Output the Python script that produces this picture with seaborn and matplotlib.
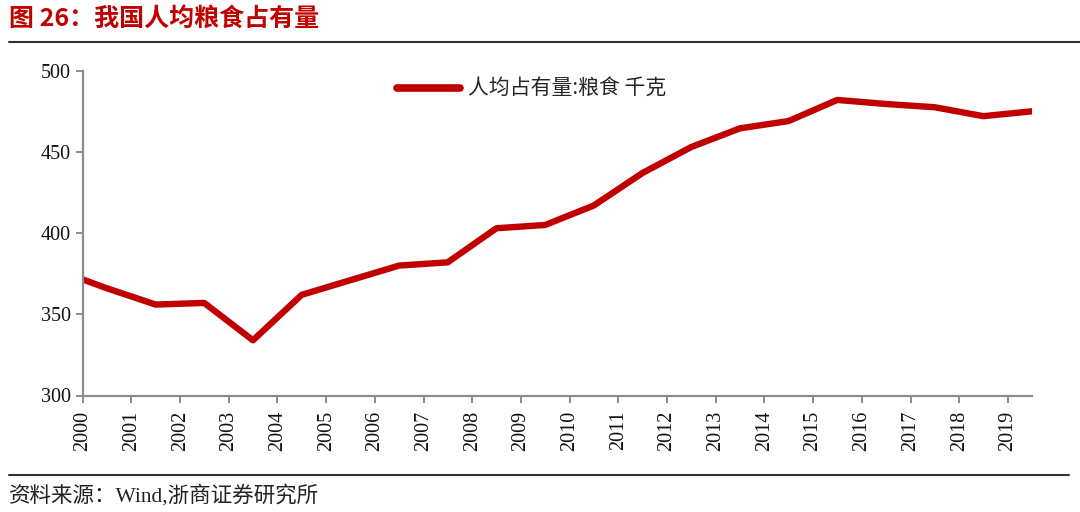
import numpy as np
import pandas as pd
import matplotlib
matplotlib.use("Agg")
import matplotlib.pyplot as plt
import matplotlib.dates as mdates
from matplotlib.lines import Line2D
import seaborn as sns

# ============================================================
# Datos: 人均粮食占有量 (千克), valor anual fechado a mitad de año
# ============================================================

years = list(range(1999, 2020))
grain_kg = [377, 366, 356, 357, 334, 362, 371, 380, 382, 403,
            405, 417, 437, 453, 464.5, 469, 482, 479.5, 477.5, 472, 475]

series_name = "人均占有量:粮食 千克"
title_text = "图 26：我国人均粮食占有量"
source_text = "资料来源：Wind,浙商证券研究所"

y_ticks = [300, 350, 400, 450, 500]

df = pd.DataFrame({
    "fecha": pd.to_datetime([f"{y}-07-01" for y in years]),
    "valor": grain_kg,
    "serie": series_name,
})

# ============================================================
# Estilo
# ============================================================

sns.set_style("ticks")
plt.rcParams["font.family"] = ["Liberation Serif", "Noto Sans CJK SC"]

rojo = "#C00000"
gris = "#8C8C8C"

fig = plt.figure(figsize=(10.8, 5.12), dpi=100)
ax = fig.add_axes([82.7 / 1080, 1 - 395.5 / 512,
                   (1032 - 82.7) / 1080, (395.5 - 70.7) / 512])

sns.lineplot(data=df, x="fecha", y="valor", hue="serie",
             palette=[rojo], linewidth=4.6, ax=ax)

ax.set_xlim(pd.Timestamp("2000-01-01"), pd.Timestamp("2019-07-01"))
ax.set_ylim(300, 500)
ax.set_yticks(y_ticks)
ax.xaxis.set_major_locator(mdates.YearLocator())
ax.xaxis.set_major_formatter(mdates.DateFormatter("%Y"))
ax.set_xlabel("")
ax.set_ylabel("")

for lado in ["top", "right"]:
    ax.spines[lado].set_visible(False)
for lado in ["left", "bottom"]:
    ax.spines[lado].set_color(gris)
    ax.spines[lado].set_linewidth(1.6)

ax.tick_params(axis="both", colors=gris, length=5, width=1.4,
               labelcolor="#111111", labelsize=14.5)
ax.tick_params(axis="x", pad=6)
plt.setp(ax.get_xticklabels(), rotation=90, ha="center", va="top")

leg = ax.legend(loc="upper center", bbox_to_anchor=(0.473, 1.035),
                frameon=False, handlelength=3.0, handletextpad=0.4,
                prop={"family": ["Noto Sans CJK SC"], "size": 15})
for h in leg.get_lines():
    h.set_linewidth(5.5)
    h.set_solid_capstyle("round")

# Título, líneas separadoras y fuente
fig.text(0.008, 1 - 19 / 512, title_text, color=rojo, fontsize=18,
         fontweight="bold", va="center", ha="left",
         family=["Noto Sans CJK SC"])
fig.add_artist(Line2D([0.008, 1.0], [1 - 42 / 512] * 2,
                      transform=fig.transFigure, color="#333333", lw=1.5))
fig.add_artist(Line2D([0.008, 0.99], [1 - 475 / 512] * 2,
                      transform=fig.transFigure, color="#333333", lw=1.5))
fig.text(0.008, 1 - 496 / 512, source_text, color="#222222", fontsize=15.5,
         va="center", ha="left", family=["Liberation Serif", "Noto Sans CJK SC"])

plt.savefig("out.png", dpi=100)
plt.close()
